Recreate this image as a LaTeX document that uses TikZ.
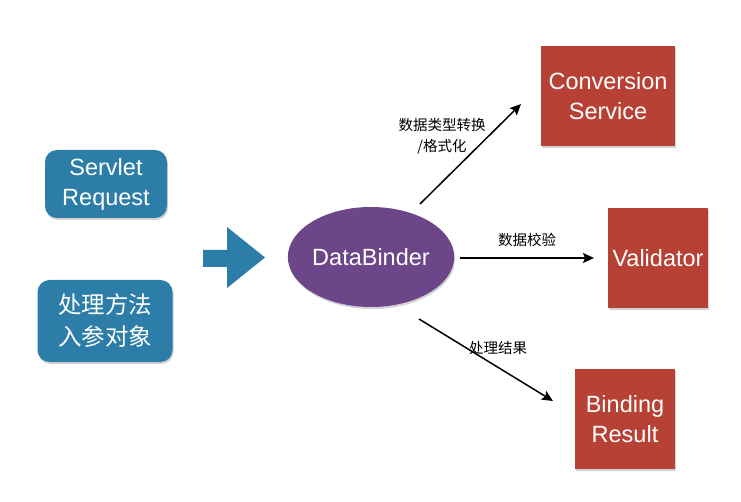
\documentclass[tikz,border=0pt]{standalone}
\usepackage{fontspec}
\setmainfont{Liberation Sans}
\newfontfamily\cjk{Noto Sans CJK SC}
\usetikzlibrary{arrows.meta,shadows,shapes.geometric}

\definecolor{inblue}{RGB}{44,125,167}
\definecolor{outred}{RGB}{183,65,52}
\definecolor{binderpurple}{RGB}{109,70,137}

\tikzset{
  boxshadow/.style={drop shadow={opacity=0.35,shadow xshift=1pt,shadow yshift=-2pt}},
  inbox/.style={fill=inblue, rounded corners=12pt, text=white, align=center, boxshadow},
  outbox/.style={fill=outred, text=white, align=center, minimum size=100pt, boxshadow},
  bigtext/.style={font=\fontsize{23.5}{30}\selectfont},
  flow/.style={-{Stealth[length=11pt,width=10pt,inset=2pt]}, line width=1.5pt},
  lbl/.style={font=\cjk\fontsize{14.5}{21}\selectfont, align=center}
}

\begin{document}
\begin{tikzpicture}[x=1pt,y=-1pt]
    \useasboundingbox (0,0) rectangle (741,502);
    % inputs
    \node[inbox, bigtext, minimum width=122pt, minimum height=68pt] (req) at (106,184) {Servlet\\Request};
    \node[inbox, font=\cjk\fontsize{23.5}{32}\selectfont, minimum width=135pt, minimum height=82pt] (obj) at (105,321) {处理方法\\入参对象};
    \fill[inblue] (203,250) -- (227,250) -- (227,227) -- (265,257.5) -- (227,288) -- (227,267) -- (203,267) -- cycle;
    % binder
    \node[ellipse, fill=binderpurple, text=white, bigtext, minimum width=151pt, minimum height=100pt, inner sep=0pt, boxshadow] (db) at (371,257) {DataBinder};
    % outputs
    \node[outbox, bigtext, minimum width=134pt] (conv) at (608,96) {Conversion\\Service};
    \node[outbox, bigtext] (valid) at (658,258) {Validator};
    \node[outbox, bigtext] (result) at (625,419) {Binding\\Result};
    % connectors
    \coordinate (c1s) at (420,204);
    \coordinate (c1e) at (521,104);
    \coordinate (c2s) at (460,258);
    \coordinate (c2e) at (594,258);
    \coordinate (c3s) at (419,319);
    \coordinate (c3e) at (553,401);
    \draw[flow] (c1s) -- (c1e);
    \draw[flow] (c2s) -- (c2e);
    \draw[flow] (c3s) -- (c3e);
    \node[lbl] (l1) at (442,136) {数据类型转换\\/格式化};
    \node[lbl] (l2) at (527,240) {数据校验};
    \node[lbl] (l3) at (498,348) {处理结果};
  \end{tikzpicture}
\end{document}
